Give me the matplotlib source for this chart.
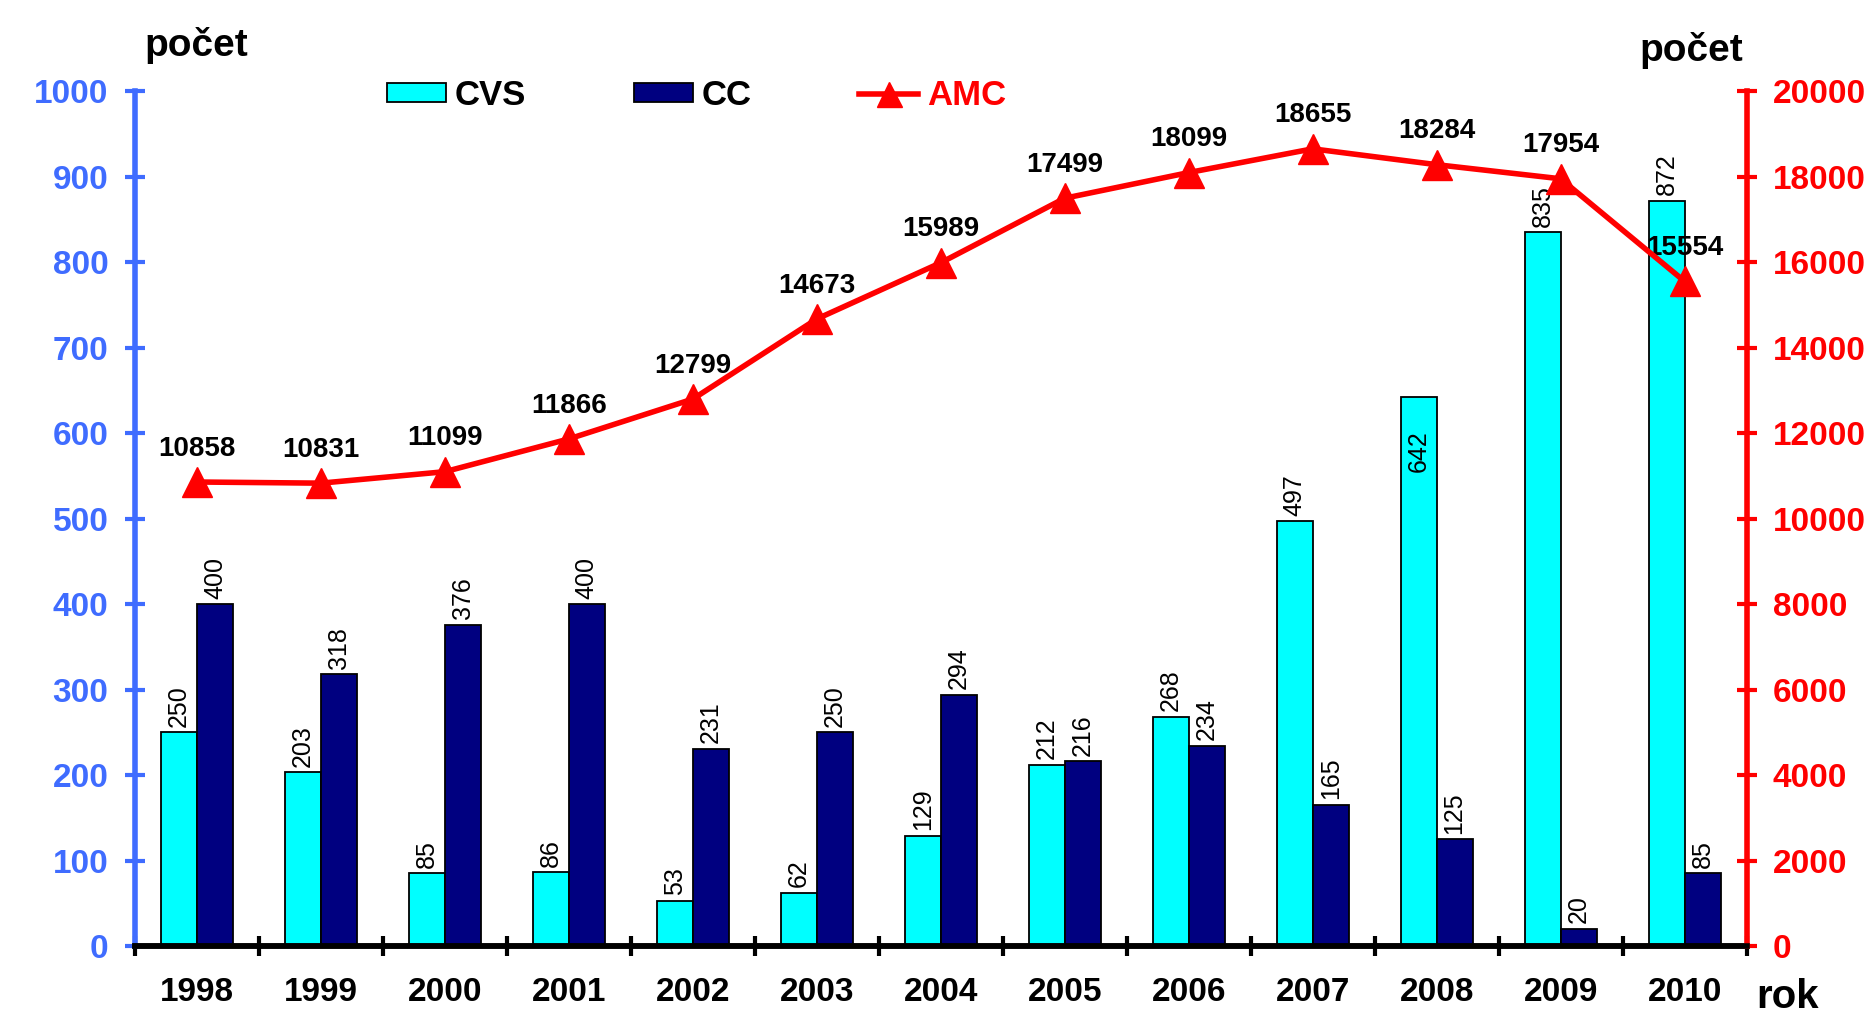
import numpy as np
import matplotlib
matplotlib.use("Agg")
import matplotlib.pyplot as plt
from matplotlib.lines import Line2D
from matplotlib.patches import Patch

plt.rcParams['font.family'] = ['Liberation Sans', 'DejaVu Sans']

years = ['1998', '1999', '2000', '2001', '2002', '2003', '2004',
         '2005', '2006', '2007', '2008', '2009', '2010']
cvs = [250, 203, 85, 86, 53, 62, 129, 212, 268, 497, 642, 835, 872]
cc = [400, 318, 376, 400, 231, 250, 294, 216, 234, 165, 125, 20, 85]
amc = [10858, 10831, 11099, 11866, 12799, 14673, 15989,
       17499, 18099, 18655, 18284, 17954, 15554]

BLUE = '#3F6CFF'
RED = '#FF0000'
CYAN = '#00FFFF'
NAVY = '#000080'

fig = plt.figure(figsize=(18.74, 10.15), dpi=100)
ax = fig.add_axes([0.072, 0.068, 0.860, 0.842])
ax2 = ax.twinx()

x = np.arange(len(years))
w = 0.29
b1 = ax.bar(x - w / 2, cvs, w, color=CYAN, edgecolor='black', linewidth=1.3, zorder=2)
b2 = ax.bar(x + w / 2, cc, w, color=NAVY, edgecolor='black', linewidth=1.3, zorder=2)

# vertical value labels on bars (642 sits inside its bar like in the original)
for rect, v in zip(list(b1) + list(b2), cvs + cc):
    cx = rect.get_x() + rect.get_width() / 2
    if v == 642:
        off, va = -24, 'top'
    else:
        off, va = 4, 'bottom'
    ax.annotate(str(v), (cx, v), xytext=(0, off), textcoords='offset points',
                ha='center', va=va, rotation=90, fontsize=18, zorder=5)

ax2.plot(x, amc, color=RED, linewidth=4, marker='^', markersize=22, zorder=4)
for xi, v in zip(x, amc):
    ax2.annotate(str(v), (xi, v), xytext=(0, 24), textcoords='offset points',
                 ha='center', va='center', fontsize=20, fontweight='bold')

ax.set_zorder(ax2.get_zorder() - 1)
ax.patch.set_visible(False)
ax2.patch.set_visible(False)

ax.set_xlim(-0.5, len(years) - 0.5)
ax.set_ylim(0, 1000)
ax2.set_ylim(0, 20000)
ax.set_yticks(np.arange(0, 1001, 100))
ax2.set_yticks(np.arange(0, 20001, 2000))

ax.set_xticks(x)
ax.set_xticklabels(years, fontsize=24, fontweight='bold')
ax.set_xticks(np.arange(-0.5, len(years), 1), minor=True)
ax.tick_params(axis='x', which='major', length=0, pad=22)
ax.tick_params(axis='x', which='minor', direction='inout', length=14, width=3, color='black')

ax.tick_params(axis='y', direction='inout', length=14, width=3, color=BLUE,
               labelcolor=BLUE, labelsize=24, pad=12)
ax2.tick_params(axis='y', direction='inout', length=14, width=3, color=RED,
                labelcolor=RED, labelsize=24, pad=12)
for lab in ax.get_yticklabels() + ax2.get_yticklabels():
    lab.set_fontweight('bold')

for a in (ax, ax2):
    a.spines['top'].set_visible(False)
    a.spines['bottom'].set_color('black')
    a.spines['bottom'].set_linewidth(4)
ax.spines['left'].set_color(BLUE)
ax.spines['left'].set_linewidth(4)
ax.spines['right'].set_visible(False)
ax2.spines['left'].set_visible(False)
ax2.spines['right'].set_color(RED)
ax2.spines['right'].set_linewidth(4)

fig.text(0.077, 0.955, 'počet', fontsize=28, fontweight='bold', ha='left', va='center')
fig.text(0.930, 0.950, 'počet', fontsize=28, fontweight='bold', ha='right', va='center')
fig.text(0.937, 0.018, 'rok', fontsize=29, fontweight='bold', ha='left', va='center')

handles = [Patch(facecolor=CYAN, edgecolor='black', linewidth=1.3),
           Patch(facecolor=NAVY, edgecolor='black', linewidth=1.3),
           Line2D([], [], color=RED, linewidth=4, marker='^', markersize=18)]
fig.legend(handles, ['CVS', 'CC', 'AMC'], loc='center left', ncol=3,
           bbox_to_anchor=(0.19, 0.906), frameon=False, handlelength=1.7,
           handleheight=0.5, columnspacing=3.1, handletextpad=0.25,
           prop={'size': 25, 'weight': 'bold'}, labelcolor=['black', 'black', RED])

fig.savefig('out.png', dpi=100)
